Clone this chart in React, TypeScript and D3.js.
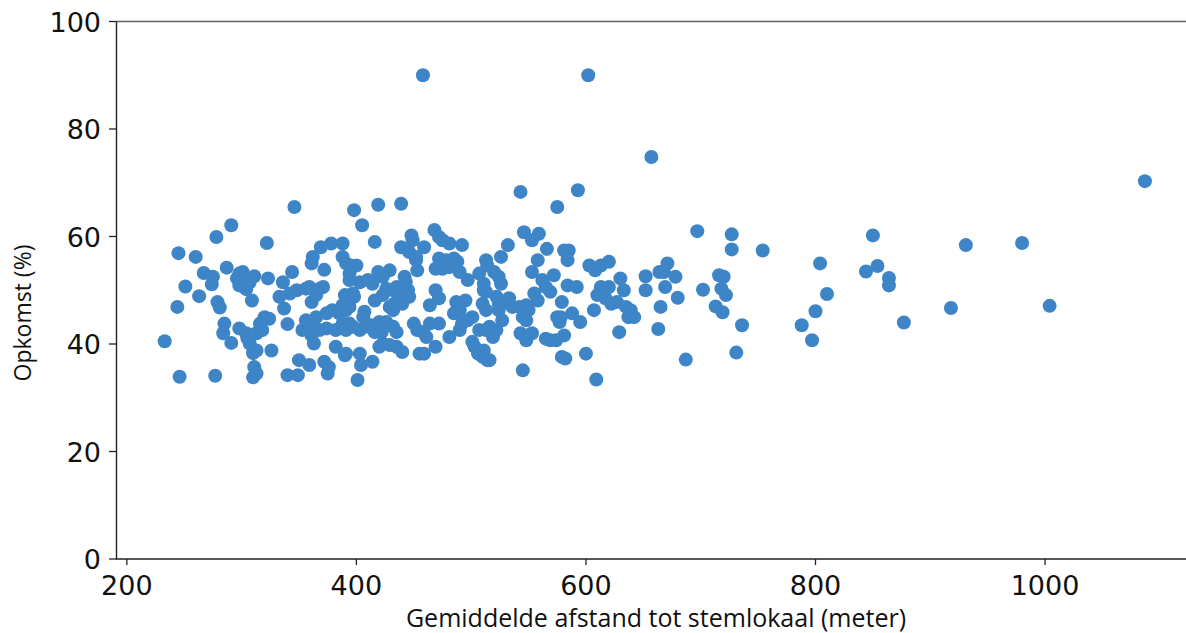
import React from "react";
import * as d3 from "d3";

// Gemiddelde afstand tot stemlokaal (meter) per point
const distance: number[] = [
  291, 278, 245, 260, 287, 267, 275, 251, 274, 298, 301, 296, 304, 298, 307, 311, 263, 279, 281, 244, 309, 285, 298, 284, 291, 233, 304, 307, 310, 305, 246, 277, 310, 311,
  346, 322, 378, 369, 362, 361, 388, 372, 388, 391, 323, 344, 336, 348, 356, 359, 368, 371, 333, 342, 361, 365, 390, 391, 337, 320, 324, 316, 356, 365, 374, 379, 385, 391, 353, 359, 368, 374, 382, 388, 340, 313, 318, 313, 361, 363, 326, 382, 390, 350, 359, 372, 376, 313, 340, 349, 375,
  398, 419, 439, 405, 448, 449, 416, 439, 446, 452, 395, 400, 394, 419, 429, 423, 394, 403, 410, 414, 442, 443, 426, 435, 432, 397, 398, 445, 446, 416, 423, 437, 440, 388, 394, 407, 406, 429, 432, 433, 394, 397, 391, 403, 408, 413, 420, 426, 432, 435, 416, 422, 450, 453, 423, 420, 429, 435, 440, 391, 403, 404, 414, 455, 401,
  468, 472, 475, 481, 459, 492, 452, 472, 478, 485, 488, 469, 475, 481, 453, 490, 497, 507, 513, 514, 511, 511, 469, 472, 464, 487, 495, 490, 485, 510, 513, 501, 497, 458, 464, 472, 461, 490, 492, 507, 513, 481, 501, 503, 506, 510, 469, 459, 514,
  543, 575, 546, 553, 559, 532, 566, 526, 558, 553, 572, 520, 524, 526, 513, 562, 565, 569, 555, 558, 522, 524, 530, 533, 524, 527, 536, 542, 548, 550, 545, 548, 575, 516, 522, 519, 511, 543, 548, 553, 565, 569, 574, 516, 545,
  593, 581, 585, 584, 603, 608, 613, 620, 630, 633, 584, 592, 613, 620, 610, 617, 622, 579, 627, 635, 639, 642, 637, 607, 588, 595, 578, 577, 629, 581, 579, 582, 600, 609,
  657, 697, 727, 727, 754, 671, 664, 668, 678, 652, 716, 720, 652, 669, 680, 702, 718, 722, 665, 713, 719, 736, 663, 731, 687,
  1087, 850, 931, 980, 804, 854, 844, 864, 864, 810, 800, 788, 797, 877, 918, 1004,
  458, 602,
];

// Opkomst (%) per point, same order
const turnout: number[] = [
  62.1, 59.9, 56.9, 56.2, 54.2, 53.2, 52.5, 50.7, 51.1, 53.1, 53.4, 52.2, 50.2, 50.9, 51.5, 52.6, 48.9, 47.8, 46.8, 46.9, 48.1, 43.8, 42.9, 42.0, 40.2, 40.5, 42.0, 40.1, 38.3, 41.1, 33.9, 34.1, 33.8, 35.7,
  65.5, 58.8, 58.7, 58.0, 56.2, 55.0, 58.7, 53.8, 56.2, 55.0, 52.2, 53.4, 51.5, 50.0, 50.3, 50.6, 50.3, 50.6, 48.8, 49.4, 47.8, 49.1, 49.1, 48.5, 46.6, 45.0, 44.7, 43.8, 44.4, 45.0, 45.7, 46.3, 45.7, 46.3, 42.6, 43.2, 42.6, 42.9, 42.6, 43.8, 43.7, 42.0, 42.6, 38.8, 41.6, 40.1, 38.8, 39.5, 37.9, 37.0, 36.1, 36.7, 35.7, 34.5, 34.2, 34.2, 34.5,
  64.9, 65.9, 66.1, 62.1, 60.2, 59.3, 59.0, 58.0, 57.1, 56.2, 54.6, 54.6, 53.1, 53.4, 53.7, 52.5, 51.9, 51.5, 51.9, 51.2, 52.5, 51.5, 50.3, 50.6, 50.0, 49.4, 48.8, 50.0, 48.8, 48.1, 49.1, 48.5, 47.5, 47.2, 46.9, 46.0, 45.0, 46.9, 46.3, 47.5, 43.8, 43.2, 42.6, 42.6, 43.2, 43.5, 44.1, 44.1, 43.2, 42.2, 42.2, 42.2, 43.8, 42.6, 40.1, 39.5, 39.8, 39.5, 38.5, 38.2, 38.2, 36.1, 36.7, 38.2, 33.3,
  61.2, 59.9, 59.3, 58.7, 58.0, 58.4, 55.6, 55.9, 55.6, 55.9, 55.3, 54.0, 54.0, 54.3, 53.7, 53.4, 51.9, 53.1, 55.6, 54.6, 51.2, 50.0, 50.0, 48.5, 47.2, 47.8, 48.1, 46.3, 45.7, 47.5, 46.3, 45.0, 44.4, 42.2, 43.8, 43.8, 41.3, 42.6, 43.8, 42.6, 42.6, 41.3, 40.4, 39.5, 38.2, 37.6, 39.5, 38.2, 37.0,
  68.3, 65.5, 60.8, 59.3, 60.5, 58.4, 57.7, 56.2, 55.6, 53.4, 52.8, 53.4, 52.5, 51.2, 49.7, 51.9, 50.6, 49.7, 49.4, 48.1, 48.8, 47.5, 47.8, 48.5, 46.3, 44.4, 46.9, 46.9, 47.2, 46.3, 45.0, 44.4, 45.0, 43.2, 42.6, 41.3, 38.8, 42.0, 40.7, 42.0, 41.0, 40.7, 40.7, 37.0, 35.1,
  68.6, 57.4, 57.4, 55.6, 54.6, 53.7, 54.6, 55.3, 52.2, 50.0, 50.9, 50.6, 50.6, 50.6, 49.1, 48.5, 47.5, 47.8, 47.8, 46.9, 46.3, 45.0, 45.0, 46.3, 45.7, 44.1, 45.0, 44.1, 42.2, 41.6, 37.6, 37.3, 38.2, 33.4,
  74.8, 61.0, 60.4, 57.6, 57.4, 55.0, 53.4, 53.4, 52.5, 52.6, 52.8, 52.5, 50.0, 50.6, 48.6, 50.1, 50.3, 49.1, 46.9, 47.0, 45.9, 43.5, 42.8, 38.4, 37.1,
  70.3, 60.2, 58.4, 58.8, 55.0, 54.5, 53.5, 52.3, 50.9, 49.3, 46.1, 43.5, 40.7, 44.0, 46.7, 47.1,
  90.0, 90.0,
];

const xTicks = [200, 400, 600, 800, 1000];
const yTicks = [0, 20, 40, 60, 80, 100];
const xLabel = "Gemiddelde afstand tot stemlokaal (meter)";
const yLabel = "Opkomst (%)";

const W = 1186;
const H = 633;

export default function App() {
  const x = d3.scaleLinear().domain([191, 1135]).range([116.5, 1200]);
  const y = d3.scaleLinear().domain([0, 100]).range([559, 21.5]);
  const points = distance.map((d, i) => ({ d, t: turnout[i] }));
  const tickFont = "'DejaVu Sans', sans-serif";
  const labelFont = "'Open Sans', 'Noto Sans', sans-serif";

  return (
    <div style={{ position: "absolute", left: 0, top: 0 }}>
      <svg width={W} height={H} style={{ display: "block", background: "#fff" }}>
        {/* top line */}
        <line x1={116.5} x2={W} y1={y(100)} y2={y(100)} stroke="#666" strokeWidth={1.6} />
        {/* points */}
        {points.map((p, i) => (
          <circle key={i} cx={x(p.d)} cy={y(p.t)} r={7} fill="#3d85c6" />
        ))}
        {/* spines */}
        <line x1={116.5} x2={116.5} y1={y(100)} y2={559.5} stroke="#222" strokeWidth={1.4} />
        <line x1={116} x2={W} y1={559} y2={559} stroke="#222" strokeWidth={1.4} />
        {/* x ticks */}
        {xTicks.map((t) => (
          <g key={t}>
            <line x1={x(t)} x2={x(t)} y1={559} y2={565} stroke="#222" strokeWidth={1.3} />
            <text x={x(t)} y={595} textAnchor="middle" fontFamily={tickFont} fontSize={27} fill="#111">
              {t}
            </text>
          </g>
        ))}
        {/* y ticks */}
        {yTicks.map((t) => (
          <g key={t}>
            <line x1={109} x2={116.5} y1={y(t)} y2={y(t)} stroke="#222" strokeWidth={1.3} />
            <text x={101} y={y(t) + 10} textAnchor="end" fontFamily={tickFont} fontSize={27} fill="#111">
              {t}
            </text>
          </g>
        ))}
        <text x={656} y={627} textAnchor="middle" fontFamily={labelFont} fontSize={25} fill="#111">
          {xLabel}
        </text>
        <text
          transform="translate(31,313) rotate(-90)"
          textAnchor="middle"
          fontFamily={labelFont}
          fontSize={23}
          fill="#111"
        >
          {yLabel}
        </text>
      </svg>
    </div>
  );
}
